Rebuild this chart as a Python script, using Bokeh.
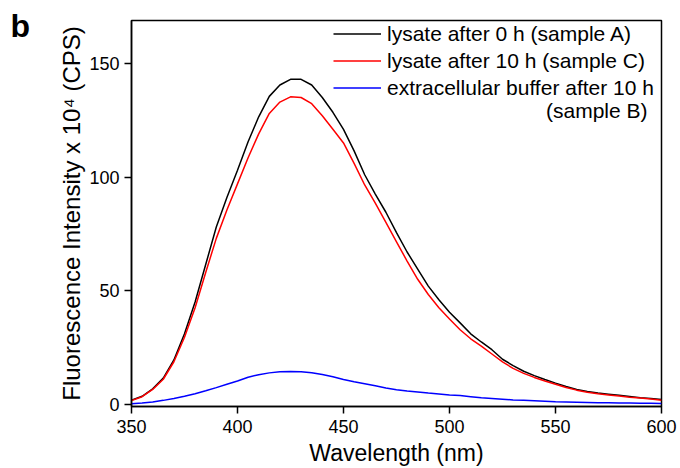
from bokeh.plotting import figure
from bokeh.models import Range1d, Legend, LegendItem, Label, FixedTicker, Title
from bokeh.embed import file_html
from bokeh.resources import INLINE

wavelength = list(range(350, 601, 5))

sample_A = [1.8, 3.5, 6.8, 11.5, 19.5, 31, 45, 61.5, 78, 91, 103, 115.5, 126.5, 135.5,
            140.5, 143, 143, 140.5, 135, 128.5, 121, 111.5, 101, 92.5, 84.5, 75.5, 67,
            59.5, 52, 46, 40.5, 35.8, 31, 27.4, 24, 19.8, 17.0, 14.5, 12.6, 10.9, 9.3,
            7.8, 6.5, 5.6, 4.9, 4.4, 3.9, 3.4, 2.9, 2.5, 2.1]

sample_C = [1.6, 3.3, 6.5, 11.0, 18.7, 29.5, 42.5, 58, 73, 85.5, 97, 108.5, 119, 128,
            133, 135.3, 135, 132.3, 127, 121, 115, 106, 96.5, 88.5, 80, 71.5, 63, 55,
            48.3, 42.5, 37.5, 32.8, 28.8, 25.6, 22.1, 18.6, 15.8, 13.6, 11.8, 10.2, 8.8,
            7.4, 6.2, 5.3, 4.6, 4.1, 3.6, 3.1, 2.7, 2.3, 1.8]

sample_B = [0.2, 0.5, 1.0, 1.7, 2.5, 3.5, 4.6, 5.9, 7.3, 8.8, 10.2, 11.9, 13.0, 13.8,
            14.3, 14.4, 14.3, 13.9, 13.1, 12.1, 10.9, 9.9, 9.0, 8.1, 7.1, 6.4, 5.8, 5.4,
            4.9, 4.5, 4.1, 3.8, 3.3, 2.8, 2.5, 2.2, 1.9, 1.7, 1.5, 1.3, 1.1, 1.0, 0.9,
            0.8, 0.7, 0.6, 0.5, 0.5, 0.4, 0.4, 0.3]

labels = ["lysate after 0 h (sample A)",
          "lysate after 10 h (sample C)",
          "extracellular buffer after 10 h"]
label_cont = "(sample B)"
panel_letter = "b"
x_ticks = [350, 400, 450, 500, 550, 600]
y_ticks = [0, 50, 100, 150]

FONT = "Liberation Sans"

title = Title(text=panel_letter, align="left", vertical_align="bottom",
              text_font=FONT, text_font_size="32px",
              text_font_style="bold", text_color="black", offset=-121, standoff=-46)

p = figure(width=680, height=468, output_backend="svg", toolbar_location=None,
           x_range=Range1d(350, 600), y_range=Range1d(-1.0, 168.9),
           min_border_left=131, min_border_right=19, min_border_top=20,
           min_border_bottom=59, title=title)
p.outline_line_color = "black"
p.outline_line_width = 1.5
p.grid.visible = False
p.background_fill_color = "white"
p.border_fill_color = "white"

rA = p.line(wavelength, sample_A, line_color="black", line_width=1.5)
rC = p.line(wavelength, sample_C, line_color="#ff0000", line_width=1.5)
rB = p.line(wavelength, sample_B, line_color="#0000ff", line_width=1.5)

for ax in (p.xaxis[0], p.yaxis[0]):
    ax.axis_line_color = "black"
    ax.axis_line_width = 1.5
    ax.major_tick_line_width = 1.5
    ax.major_tick_out = 7
    ax.major_tick_in = 0
    ax.minor_tick_line_color = None
    ax.major_label_text_font = FONT
    ax.major_label_text_font_size = "18px"
    ax.major_label_text_color = "black"
    ax.axis_label_text_font = FONT
    ax.axis_label_text_font_style = "normal"
    ax.axis_label_text_color = "black"

p.xaxis.ticker = FixedTicker(ticks=x_ticks)
p.yaxis.ticker = FixedTicker(ticks=y_ticks)
p.xaxis.axis_label = "Wavelength (nm)"
p.xaxis.axis_label_text_font_size = "23px"
p.xaxis.axis_label_standoff = 4
p.xaxis.major_label_standoff = 6
p.yaxis.axis_label = "Fluorescence Intensity x 10\u2074 (CPS)"
p.yaxis.axis_label_text_font_size = "24px"
p.yaxis.axis_label_standoff = 1
p.yaxis.major_label_standoff = 5

legend = Legend(items=[LegendItem(label=labels[0], renderers=[rA]),
                       LegendItem(label=labels[1], renderers=[rC]),
                       LegendItem(label=labels[2], renderers=[rB])],
                location=(202, 306))
legend.border_line_color = None
legend.background_fill_alpha = 0
legend.label_text_font = FONT
legend.label_text_font_size = "21px"
legend.label_text_color = "black"
legend.glyph_width = 48
legend.glyph_height = 25
legend.label_height = 25
legend.spacing = 2
legend.padding = 0
legend.margin = 0
legend.label_standoff = 6
p.add_layout(legend, "center")

p.add_layout(Label(x=516, y=296, x_units="screen", y_units="screen",
                   text=label_cont, text_font=FONT, text_font_size="21px",
                   text_align="right", text_baseline="middle", text_color="black"))

open("out.html", "w").write(file_html(p, INLINE))
